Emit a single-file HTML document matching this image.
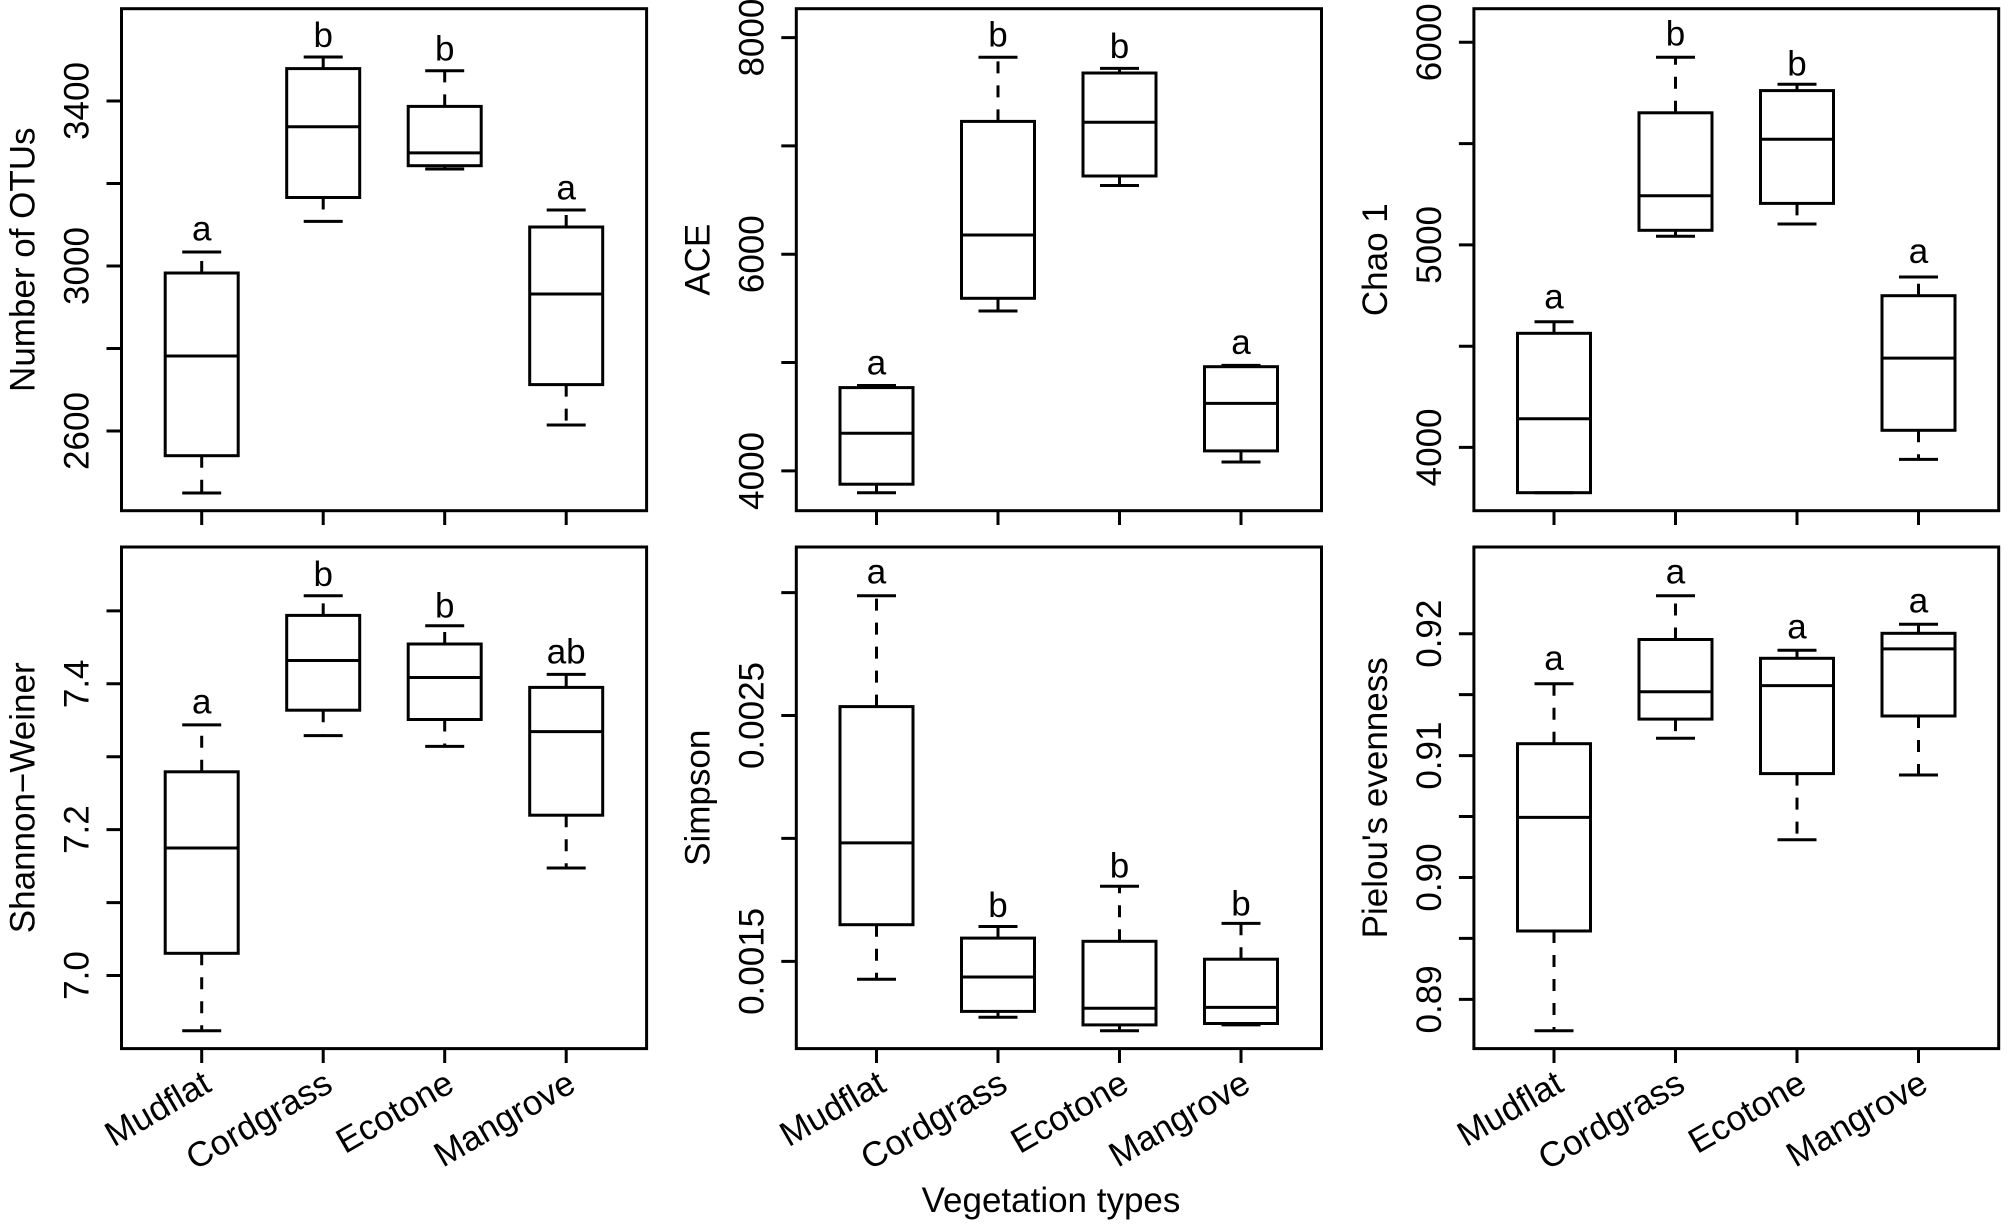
<!DOCTYPE html>
<html><head><meta charset="utf-8"><style>
html,body{margin:0;padding:0;background:#fff;}
svg{display:block;}
text{font-family:"Liberation Sans",Arial,sans-serif;font-size:35px;fill:#000;}
</style></head><body>
<svg width="2007" height="1231" viewBox="0 0 2007 1231" xmlns="http://www.w3.org/2000/svg">
<rect width="2007" height="1231" fill="#fff"/>
<g fill="none" stroke="#000" stroke-width="3">
<!-- frames -->
<rect x="121.5" y="8.7" width="525.1" height="502"/>
<rect x="796.3" y="8.7" width="525.2" height="502"/>
<rect x="1473.9" y="8.7" width="524.8" height="502"/>
<rect x="121.5" y="547" width="525.1" height="501.6"/>
<rect x="796.3" y="547" width="525.2" height="501.6"/>
<rect x="1473.9" y="547" width="524.8" height="501.6"/>
<!-- bottom ticks -->
<path d="M201.7 510.7V525M323.2 510.7V525M444.7 510.7V525M566.2 510.7V525
M876.5 510.7V525M998 510.7V525M1119.5 510.7V525M1241 510.7V525
M1554 510.7V525M1675.5 510.7V525M1797 510.7V525M1918.5 510.7V525
M201.7 1048.6V1063M323.2 1048.6V1063M444.7 1048.6V1063M566.2 1048.6V1063
M876.5 1048.6V1063M998 1048.6V1063M1119.5 1048.6V1063M1241 1048.6V1063
M1554 1048.6V1063M1675.5 1048.6V1063M1797 1048.6V1063M1918.5 1048.6V1063"/>
<!-- left ticks -->
<path d="M121.5 101H106.5M121.5 183.5H106.5M121.5 266H106.5M121.5 348.5H106.5M121.5 431H106.5
M796.3 37.6H781.3M796.3 145.9H781.3M796.3 254.2H781.3M796.3 362.5H781.3M796.3 470.9H781.3
M1473.9 42.3H1458.9M1473.9 143.6H1458.9M1473.9 244.9H1458.9M1473.9 346.2H1458.9M1473.9 447.4H1458.9
M121.5 610.9H106.5M121.5 683.8H106.5M121.5 756.7H106.5M121.5 829.6H106.5M121.5 902.6H106.5M121.5 975.5H106.5
M796.3 592.6H781.3M796.3 715.5H781.3M796.3 838.4H781.3M796.3 961.4H781.3
M1473.9 633.7H1458.9M1473.9 694.6H1458.9M1473.9 755.6H1458.9M1473.9 816.5H1458.9M1473.9 877.5H1458.9M1473.9 938.4H1458.9M1473.9 999.4H1458.9"/>

<!-- Panel 1: OTUs -->
<rect x="165.2" y="273" width="73" height="182.7"/><path d="M165.2 356H238.2M182.2 252H221.2M182.2 493H221.2"/>
<rect x="286.7" y="68.6" width="73" height="128.9"/><path d="M286.7 126.8H359.7M303.7 57H342.7M303.7 221.4H342.7"/>
<rect x="408.2" y="106.4" width="73" height="59.3"/><path d="M408.2 152.9H481.2M425.2 70.7H464.2M425.2 169H464.2"/>
<rect x="529.7" y="227" width="73" height="157.6"/><path d="M529.7 294H602.7M546.7 210H585.7M546.7 425H585.7"/>
<path stroke-dasharray="12 12" d="M201.7 273V252M201.7 455.7V493M323.2 68.6V57M323.2 197.5V221.4M444.7 106.4V70.7M444.7 165.7V169M566.2 227V210M566.2 384.6V425"/>

<!-- Panel 2: ACE -->
<rect x="840" y="387.6" width="73" height="96.6"/><path d="M840 433.3H913M857 385.5H896M857 492.7H896"/>
<rect x="961.5" y="121.4" width="73" height="176.9"/><path d="M961.5 235H1034.5M978.5 57.3H1017.5M978.5 311H1017.5"/>
<rect x="1083" y="73" width="73" height="103"/><path d="M1083 122.2H1156M1100 68.4H1139M1100 185.5H1139"/>
<rect x="1204.5" y="366.7" width="73" height="84.2"/><path d="M1204.5 403.4H1277.5M1221.5 365.4H1260.5M1221.5 462H1260.5"/>
<path stroke-dasharray="12 12" d="M876.5 387.6V385.5M876.5 484.2V492.7M998 121.4V57.3M998 298.3V311M1119.5 73V68.4M1119.5 176V185.5M1241 366.7V365.4M1241 450.9V462"/>

<!-- Panel 3: Chao 1 -->
<rect x="1517.5" y="333.3" width="73" height="159.4"/><path d="M1517.5 418.8H1590.5M1534.5 321.8H1573.5M1534.5 492.7H1573.5"/>
<rect x="1639" y="112.8" width="73" height="117.5"/><path d="M1639 195.7H1712M1656 57.3H1695M1656 236.3H1695"/>
<rect x="1760.5" y="90.6" width="73" height="112.8"/><path d="M1760.5 139.3H1833.5M1777.5 84.2H1816.5M1777.5 224H1816.5"/>
<rect x="1882" y="295.7" width="73" height="134.6"/><path d="M1882 358.1H1955M1899 277H1938M1899 459.4H1938"/>
<path stroke-dasharray="12 12" d="M1554 333.3V321.8M1675.5 112.8V57.3M1675.5 230.3V236.3M1797 90.6V84.2M1797 203.4V224M1918.5 295.7V277M1918.5 430.3V459.4"/>

<!-- Panel 4: Shannon -->
<rect x="165.2" y="771.8" width="73" height="181.5"/><path d="M165.2 848H238.2M182.2 724.9H221.2M182.2 1030.7H221.2"/>
<rect x="286.7" y="615.4" width="73" height="94.8"/><path d="M286.7 660.5H359.7M303.7 595.7H342.7M303.7 735.6H342.7"/>
<rect x="408.2" y="644" width="73" height="75.5"/><path d="M408.2 677.5H481.2M425.2 625.7H464.2M425.2 746.4H464.2"/>
<rect x="529.7" y="687.4" width="73" height="127.8"/><path d="M529.7 731.6H602.7M546.7 674.4H585.7M546.7 868H585.7"/>
<path stroke-dasharray="12 12" d="M201.7 771.8V724.9M201.7 953.3V1030.7M323.2 615.4V595.7M323.2 710.2V735.6M444.7 644V625.7M444.7 719.5V746.4M566.2 687.4V674.4M566.2 815.2V868"/>

<!-- Panel 5: Simpson -->
<rect x="840" y="706.6" width="73" height="218.1"/><path d="M840 842.9H913M857 595.7H896M857 979.3H896"/>
<rect x="961.5" y="938.1" width="73" height="73.3"/><path d="M961.5 977H1034.5M978.5 926.5H1017.5M978.5 1017.3H1017.5"/>
<rect x="1083" y="941.3" width="73" height="83.6"/><path d="M1083 1008.3H1156M1100 886.3H1139M1100 1030.7H1139"/>
<rect x="1204.5" y="959.2" width="73" height="64.3"/><path d="M1204.5 1007.4H1277.5M1221.5 923.4H1260.5M1221.5 1024.9H1260.5"/>
<path stroke-dasharray="12 12" d="M876.5 706.6V595.7M876.5 924.7V979.3M998 938.1V926.5M998 1011.4V1017.3M1119.5 941.3V886.3M1119.5 1024.9V1030.7M1241 959.2V923.4M1241 1023.5V1024.9"/>

<!-- Panel 6: Pielou -->
<rect x="1517.5" y="743.7" width="73" height="187.3"/><path d="M1517.5 817.4H1590.5M1534.5 683.8H1573.5M1534.5 1030.7H1573.5"/>
<rect x="1639" y="639.5" width="73" height="79.6"/><path d="M1639 691.8H1712M1656 595.7H1695M1656 738.3H1695"/>
<rect x="1760.5" y="658.3" width="73" height="115.3"/><path d="M1760.5 685.6H1833.5M1777.5 650.3H1816.5M1777.5 839.8H1816.5"/>
<rect x="1882" y="633.3" width="73" height="82.7"/><path d="M1882 648.9H1955M1899 624.3H1938M1899 775H1938"/>
<path stroke-dasharray="12 12" d="M1554 743.7V683.8M1554 931V1030.7M1675.5 639.5V595.7M1675.5 719.1V738.3M1797 658.3V650.3M1797 773.6V839.8M1918.5 633.3V624.3M1918.5 716V775"/>
</g>

<!-- significance letters -->
<g text-anchor="middle">
<text x="201.7" y="240.5">a</text><text x="323.2" y="47">b</text><text x="444.7" y="60.5">b</text><text x="566.2" y="199.5">a</text>
<text x="876.5" y="374.5">a</text><text x="998" y="46.5">b</text><text x="1119.5" y="58">b</text><text x="1241" y="354">a</text>
<text x="1554" y="308.5">a</text><text x="1675.5" y="45.5">b</text><text x="1797" y="75.5">b</text><text x="1918.5" y="263">a</text>
<text x="201.7" y="713.5">a</text><text x="323.2" y="586">b</text><text x="444.7" y="617.5">b</text><text x="566.2" y="663.5">ab</text>
<text x="876.5" y="583.5">a</text><text x="998" y="917">b</text><text x="1119.5" y="877.5">b</text><text x="1241" y="915.5">b</text>
<text x="1554" y="670">a</text><text x="1675.5" y="583.5">a</text><text x="1797" y="638.5">a</text><text x="1918.5" y="612.5">a</text>
</g>

<!-- y tick labels -->
<g text-anchor="middle">
<text transform="translate(88.5 431) rotate(-90)">2600</text>
<text transform="translate(88.5 266) rotate(-90)">3000</text>
<text transform="translate(88.5 101) rotate(-90)">3400</text>
<text transform="translate(763.3 470.9) rotate(-90)">4000</text>
<text transform="translate(763.3 254.2) rotate(-90)">6000</text>
<text transform="translate(763.3 37.6) rotate(-90)">8000</text>
<text transform="translate(1441 447.4) rotate(-90)">4000</text>
<text transform="translate(1441 244.9) rotate(-90)">5000</text>
<text transform="translate(1441 42.3) rotate(-90)">6000</text>
<text transform="translate(88.5 975.5) rotate(-90)">7.0</text>
<text transform="translate(88.5 829.6) rotate(-90)">7.2</text>
<text transform="translate(88.5 683.8) rotate(-90)">7.4</text>
<text transform="translate(763.3 961.4) rotate(-90)">0.0015</text>
<text transform="translate(763.3 715.5) rotate(-90)">0.0025</text>
<text transform="translate(1441 999.4) rotate(-90)">0.89</text>
<text transform="translate(1441 877.5) rotate(-90)">0.90</text>
<text transform="translate(1441 755.6) rotate(-90)">0.91</text>
<text transform="translate(1441 633.7) rotate(-90)">0.92</text>
</g>

<!-- y axis titles -->
<g text-anchor="middle">
<text transform="translate(34.5 259.7) rotate(-90)">Number of OTUs</text>
<text transform="translate(709.3 259.7) rotate(-90)">ACE</text>
<text transform="translate(1387 259.7) rotate(-90)">Chao 1</text>
<text transform="translate(34.5 797.8) rotate(-90)">Shannon−Weiner</text>
<text transform="translate(709.3 797.8) rotate(-90)">Simpson</text>
<text transform="translate(1387 797.8) rotate(-90)">Pielou's evenness</text>
</g>

<!-- x category labels -->
<g text-anchor="end">
<text transform="translate(213.2 1090) rotate(-30)">Mudflat</text>
<text transform="translate(334.7 1090) rotate(-30)">Cordgrass</text>
<text transform="translate(456.2 1090) rotate(-30)">Ecotone</text>
<text transform="translate(577.7 1090) rotate(-30)">Mangrove</text>
<text transform="translate(888 1090) rotate(-30)">Mudflat</text>
<text transform="translate(1009.5 1090) rotate(-30)">Cordgrass</text>
<text transform="translate(1131 1090) rotate(-30)">Ecotone</text>
<text transform="translate(1252.5 1090) rotate(-30)">Mangrove</text>
<text transform="translate(1565.5 1090) rotate(-30)">Mudflat</text>
<text transform="translate(1687 1090) rotate(-30)">Cordgrass</text>
<text transform="translate(1808.5 1090) rotate(-30)">Ecotone</text>
<text transform="translate(1930 1090) rotate(-30)">Mangrove</text>
</g>

<text x="1051" y="1212" text-anchor="middle">Vegetation types</text>
</svg>
</body></html>
